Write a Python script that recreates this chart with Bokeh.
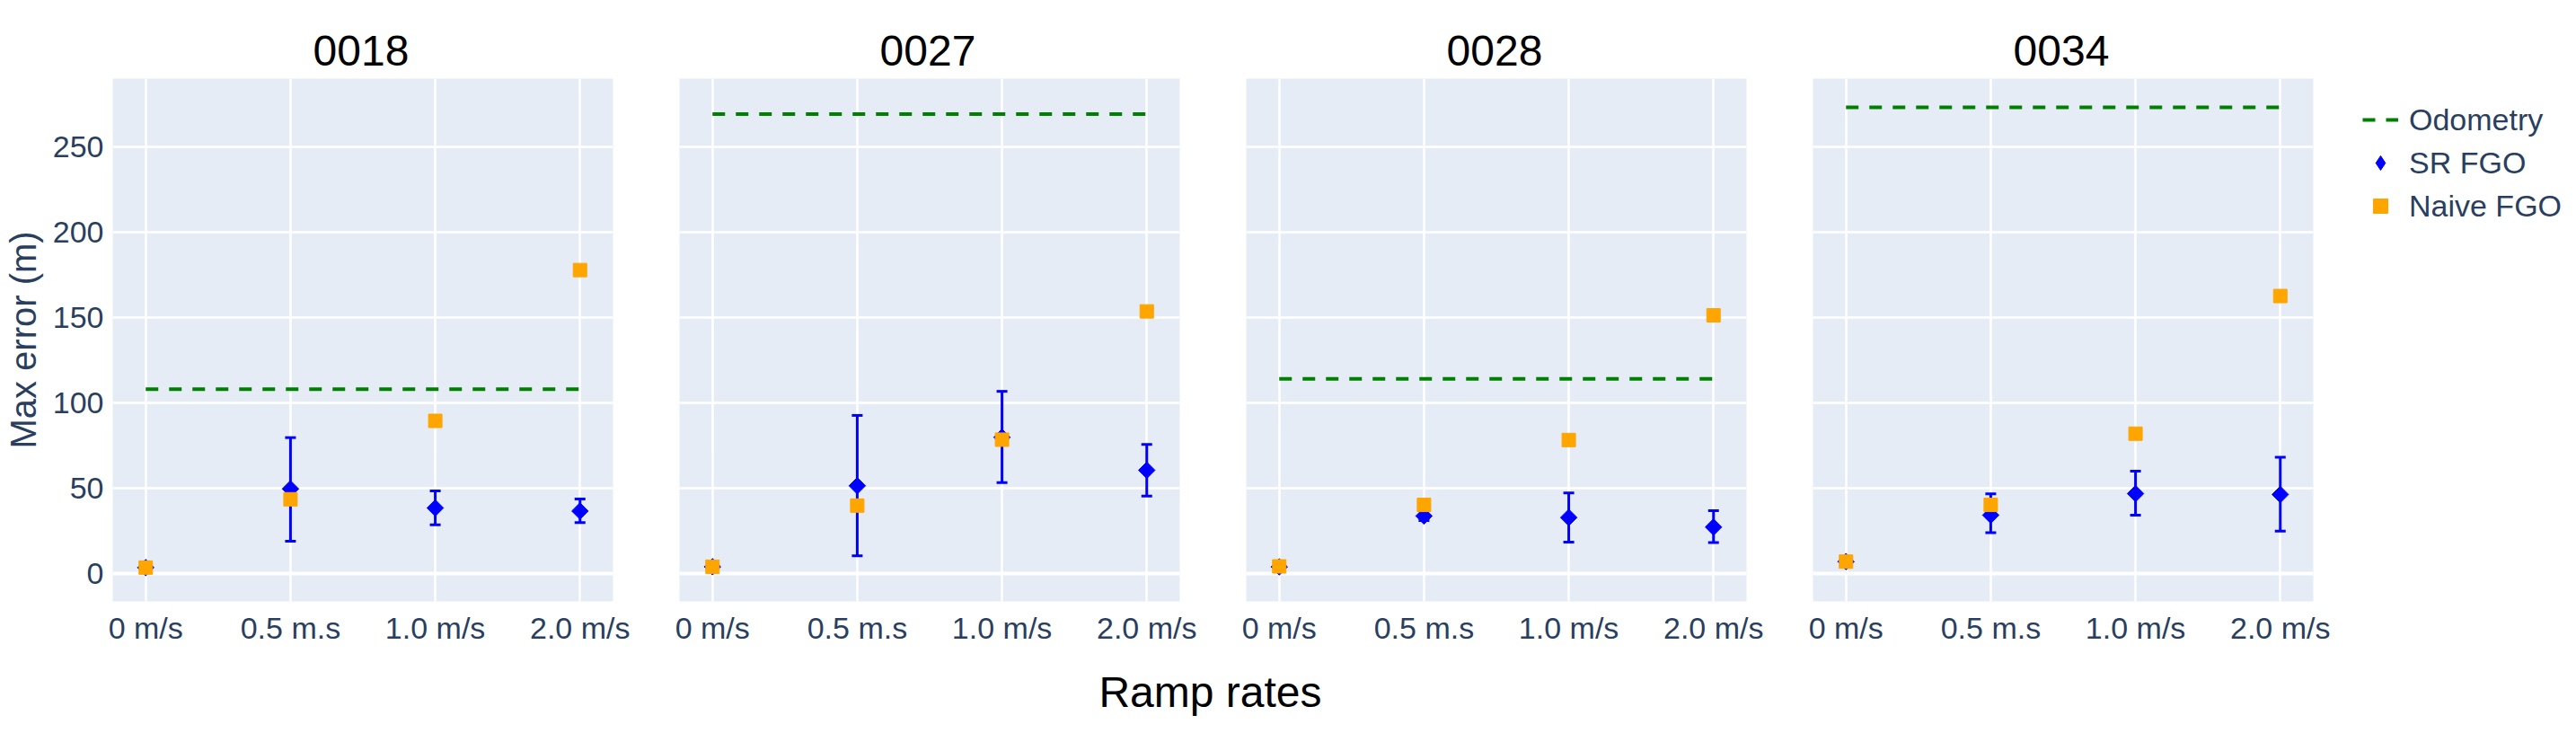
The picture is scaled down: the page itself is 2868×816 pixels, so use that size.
import numpy as np
from bokeh.plotting import figure
from bokeh.models import (Range1d, FixedTicker, ColumnDataSource, Whisker, TeeHead,
                          Legend, LegendItem, Span, Label)
from bokeh.layouts import row, column
from bokeh.embed import file_html
from bokeh.resources import INLINE

# ---------------- data ----------------
categories = ["0 m/s", "0.5 m.s", "1.0 m/s", "2.0 m/s"]
runs = ["0018", "0027", "0028", "0034"]
y_ticks = [0, 50, 100, 150, 200, 250]

odometry = [108, 269, 114, 273]

sr_0018 = [3.5, 49.6, 38.4, 36.6]
sr_up_0018 = [5.0, 79.6, 48.4, 43.7]
sr_lo_0018 = [2.0, 19.0, 28.5, 29.8]
naive_0018 = [3.5, 43.5, 89.4, 177.7]

sr_0027 = [4.0, 51.4, 79.8, 60.5]
sr_up_0027 = [5.5, 92.6, 106.7, 75.6]
sr_lo_0027 = [2.5, 10.4, 53.2, 45.4]
naive_0027 = [4.0, 39.8, 78.4, 153.5]

sr_0028 = [3.9, 33.7, 32.8, 27.2]
sr_up_0028 = [5.4, 37.0, 47.2, 36.8]
sr_lo_0028 = [2.4, 31.0, 18.4, 18.1]
naive_0028 = [4.2, 40.2, 78.2, 151.2]

sr_0034 = [7.0, 34.2, 46.8, 46.3]
sr_up_0034 = [8.5, 46.7, 60.0, 68.1]
sr_lo_0034 = [5.5, 24.0, 34.2, 24.9]
naive_0034 = [7.0, 40.2, 81.9, 162.5]

sr_all = [sr_0018, sr_0027, sr_0028, sr_0034]
sr_up_all = [sr_up_0018, sr_up_0027, sr_up_0028, sr_up_0034]
sr_lo_all = [sr_lo_0018, sr_lo_0027, sr_lo_0028, sr_lo_0034]
naive_all = [naive_0018, naive_0027, naive_0028, naive_0034]

# ---------------- style / layout ----------------
FONT = "Liberation Sans"
TXT = "#2a3f5f"
BG = "#E5ECF6"
TOTAL_W = 2852
FW, FH = 557, 582
LEFT0, GAP_HALF, RIGHT_LAST = 116, 37, 286
TITLE_H = 87          # strip holding the panel titles
BOTTOM = 52
ROW_H = FH + BOTTOM
LABEL_H = 800 - TITLE_H - ROW_H
n = len(categories)
x_idx = list(range(n))
pad = 0.228
TEXT_SHIFT = 7


def blank_strip(height):
    f = figure(width=TOTAL_W, height=height, x_axis_location=None,
               y_axis_location=None, toolbar_location=None,
               output_backend="svg", min_border=0)
    f.outline_line_color = None
    f.grid.grid_line_color = None
    return f


# panel titles
title_strip = blank_strip(TITLE_H)
for i, run in enumerate(runs):
    cx = LEFT0 + FW / 2 + i * (FW + 2 * GAP_HALF) + TEXT_SHIFT
    title_strip.add_layout(Label(x=cx, y=31, x_units="screen", y_units="screen",
                                 text=run, text_align="center",
                                 text_baseline="alphabetic", text_font=FONT,
                                 text_font_size="48px", text_color="black"))

yr = Range1d(-16.3, 289.8)
figs = []
keys = None

for i, run in enumerate(runs):
    left = LEFT0 if i == 0 else GAP_HALF
    right = RIGHT_LAST if i == len(runs) - 1 else GAP_HALF
    p = figure(frame_width=FW, frame_height=FH,
               x_range=Range1d(-pad, n - 1 + pad), y_range=yr,
               output_backend="svg", toolbar_location=None,
               min_border_left=left, min_border_right=right,
               min_border_top=0, min_border_bottom=BOTTOM)
    p.background_fill_color = BG
    p.border_fill_color = "white"
    p.outline_line_color = None

    for ax in (p.xaxis[0], p.yaxis[0]):
        ax.axis_line_color = None
        ax.major_tick_line_color = None
        ax.minor_tick_line_color = None
        ax.major_label_text_font = FONT
        ax.major_label_text_font_size = "34px"
        ax.major_label_text_color = TXT

    p.xaxis.ticker = FixedTicker(ticks=x_idx)
    p.xaxis.major_label_overrides = {k: c for k, c in enumerate(categories)}
    p.xaxis.major_label_standoff = 4
    p.yaxis.ticker = FixedTicker(ticks=y_ticks)
    p.yaxis.major_label_standoff = 4
    if i == 0:
        p.yaxis.axis_label = "Max error (m)"
        p.yaxis.axis_label_text_font = FONT
        p.yaxis.axis_label_text_font_size = "40px"
        p.yaxis.axis_label_text_font_style = "normal"
        p.yaxis.axis_label_text_color = TXT
        p.yaxis.axis_label_standoff = 8
    else:
        p.yaxis.visible = False

    p.xgrid.ticker = FixedTicker(ticks=x_idx)
    p.ygrid.ticker = FixedTicker(ticks=y_ticks)
    p.grid.grid_line_color = "white"
    p.grid.grid_line_width = 2.5

    zero = Span(location=y_ticks[0], dimension="width", line_color="white",
                line_width=4, level="underlay")
    p.add_layout(zero)

    src = ColumnDataSource(dict(
        x=x_idx,
        odo=[odometry[i]] * n,
        sr=sr_all[i],
        upper=sr_up_all[i],
        lower=sr_lo_all[i],
        naive=naive_all[i],
    ))

    r_odo = p.line("x", "odo", source=src, line_color="green", line_width=4,
                   line_dash="14 12")
    w = Whisker(base="x", upper="upper", lower="lower", source=src,
                line_color="blue", line_width=3, level="underlay",
                upper_head=TeeHead(size=12, line_color="blue", line_width=3),
                lower_head=TeeHead(size=12, line_color="blue", line_width=3))
    p.add_layout(w)
    # diamond marker (used as the legend key; sits under the rotated squares)
    r_key = p.scatter("x", "sr", source=src, marker="diamond", size=16,
                      fill_color="blue", line_color="blue")
    r_sr = p.scatter("x", "sr", source=src, marker="square", angle=np.pi / 4,
                     size=13, fill_color="blue", line_color="blue")
    r_nv = p.scatter("x", "naive", source=src, marker="square", size=15,
                     fill_color="orange", line_color="orange")
    keys = (r_odo, r_key, r_nv)
    figs.append(p)

p4 = figs[-1]
legend = Legend(items=[
    LegendItem(label="Odometry", renderers=[keys[0]]),
    LegendItem(label="SR FGO", renderers=[keys[1]]),
    LegendItem(label="Naive FGO", renderers=[keys[2]]),
], location=(55, 416))
legend.label_text_font = FONT
legend.label_text_font_size = "34px"
legend.label_text_color = TXT
legend.glyph_width = 40
legend.glyph_height = 48
legend.label_height = 48
legend.label_standoff = 12
legend.spacing = 0
legend.padding = 0
legend.margin = 0
legend.border_line_color = None
legend.background_fill_alpha = 0
p4.add_layout(legend, "right")

# shared x-axis title
label_strip = blank_strip(LABEL_H)
label_strip.add_layout(Label(x=TOTAL_W / 2 - 86 + TEXT_SHIFT, y=30, x_units="screen",
                             y_units="screen", text="Ramp rates",
                             text_align="center", text_baseline="alphabetic",
                             text_font=FONT, text_font_size="48px",
                             text_color="black"))

layout = column(title_strip, row(*figs), label_strip)
open("out.html", "w").write(file_html(layout, INLINE))
